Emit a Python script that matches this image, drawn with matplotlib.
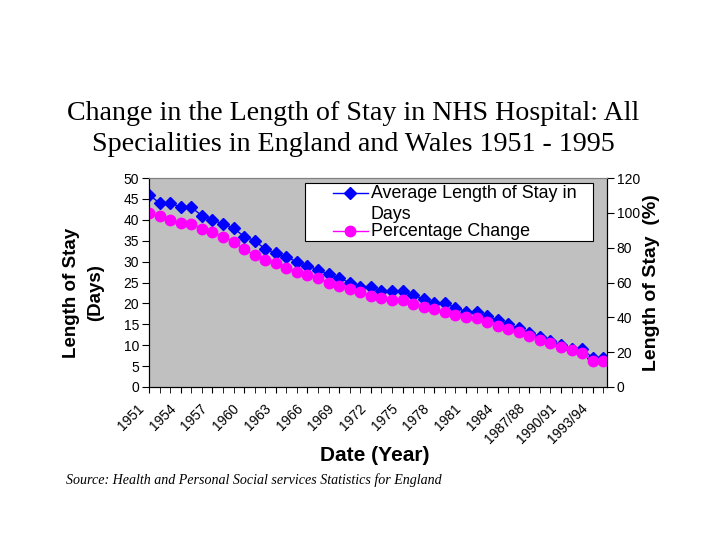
import matplotlib
matplotlib.use("Agg")
import matplotlib.pyplot as plt
import matplotlib.transforms as mtransforms
from matplotlib.lines import Line2D
from matplotlib.patches import Rectangle

# Data
years = [str(y) for y in range(1951, 1987)] + [
    "1987/88", "1988/89", "1989/90", "1990/91",
    "1991/92", "1992/93", "1993/94", "1994/95"]
avg_stay_days = [46, 44, 44, 43, 43, 41, 40, 39, 38, 36, 35, 33, 32, 31, 30,
                 29, 28, 27, 26, 25, 24, 24, 23, 23, 23, 22, 21, 20, 20, 19,
                 18, 18, 17, 16, 15, 14, 13, 12, 11, 10, 9, 9, 7, 7]
pct_change = [100, 98.4, 96, 94.4, 93.5, 91, 89, 86.3, 83.4, 79, 76, 73, 71,
              68.3, 66, 64.4, 62.5, 60, 58, 56, 54.4, 52.4, 51, 50, 50, 47.6,
              46, 44.7, 43.2, 41.3, 40, 39.4, 37.5, 35, 33.2, 31.6, 29.3, 27,
              25, 23.2, 21.2, 19.3, 15, 15.2]
series_names = ["Average Length of Stay in\nDays", "Percentage Change"]

BLUE = "#0000ff"
PINK = "#ff00ff"
SANS = "Liberation Sans"
SERIF = "Liberation Serif"
W, H = 720, 540

fig = plt.figure(figsize=(7.2, 5.4), dpi=100)
fig.patch.set_facecolor("white")
ax = fig.add_axes([149 / W, 1 - 387 / H, (607 - 149) / W, (387 - 178) / H])
ax.set_facecolor("#c0c0c0")
ax2 = ax.twinx()


def fx(px):
    return (px - 149) / 458


def fy(py):
    return (387 - py) / 209


x = list(range(len(years)))
ax.plot(x, avg_stay_days, color=BLUE, marker="D", markersize=6, lw=1)
ax2.plot(x, pct_change, color=PINK, marker="o", markersize=7.5, lw=1)

ax.set_xlim(0, len(years) - 1 + 0.35)
ax.set_ylim(0, 50)
ax2.set_ylim(0, 120)
ax.set_yticks(range(0, 51, 5))
ax2.set_yticks(range(0, 121, 20))

ax.tick_params(axis="x", which="both", length=4, direction="out", pad=7)
ax.tick_params(axis="y", length=5, direction="out", labelsize=10, pad=2)
ax2.tick_params(axis="y", length=5, direction="out", labelsize=10, pad=2)
ax.set_xticks(x, minor=True)
ax.set_xticks(x[::3])
ax.set_xticklabels(years[::3], rotation=45, ha="right", va="top",
                   rotation_mode="anchor", fontsize=10, family=SANS)
shift = mtransforms.ScaledTranslation(-0.12, 0.01, fig.dpi_scale_trans)
for lab in ax.get_xticklabels():
    lab.set_transform(lab.get_transform() + shift)
for lab in ax.get_yticklabels() + ax2.get_yticklabels():
    lab.set_family(SANS)

for a in (ax, ax2):
    for s in a.spines.values():
        s.set_linewidth(0.8)
    a.spines["top"].set_color("#808080")

ax.set_ylabel("Length of Stay\n(Days)", fontsize=13.5, fontweight="bold",
              family=SANS, labelpad=14, linespacing=1.55)
ax.yaxis.label.set_y(fy(293))
ax2.set_ylabel("Length of Stay  (%)", fontsize=14, fontweight="bold",
               family=SANS, labelpad=2)
ax.set_xlabel("Date (Year)", fontsize=15, fontweight="bold", family=SANS)
ax.xaxis.set_label_coords(fx(375), fy(446))

fig.text(353.5 / W, 1 - 129 / H, "Change in the Length of Stay in NHS Hospital: All\n"
         "Specialities in England and Wales 1951 - 1995",
         ha="center", va="center", fontsize=20.2, family=SERIF, linespacing=1.3)
fig.text(66 / W, 1 - 480 / H,
         "Source: Health and Personal Social services Statistics for England",
         ha="left", va="center", fontsize=10.1, family=SERIF, style="italic")

# legend box drawn by hand to match the original layout
ax2.add_patch(Rectangle((fx(305), fy(241)), fx(593) - fx(305), fy(183) - fy(241),
                        transform=ax2.transAxes, facecolor="white",
                        edgecolor="black", lw=0.8, zorder=5))
for (col, mk, ms), name, py in zip([(BLUE, "D", 6), (PINK, "o", 7.5)],
                                   series_names, [193, 231]):
    ax2.add_line(Line2D([fx(333), fx(368)], [fy(py), fy(py)], color=col, lw=1,
                        transform=ax2.transAxes, zorder=6))
    ax2.add_line(Line2D([fx(350.5)], [fy(py)], color=col, marker=mk, markersize=ms,
                        transform=ax2.transAxes, zorder=6))
    for k, line in enumerate(name.split("\n")):
        ax2.text(fx(371), fy(py + 21 * k), line, transform=ax2.transAxes,
                 ha="left", va="center", fontsize=12.9, family=SANS, zorder=7)

fig.savefig("out.png", dpi=100)
